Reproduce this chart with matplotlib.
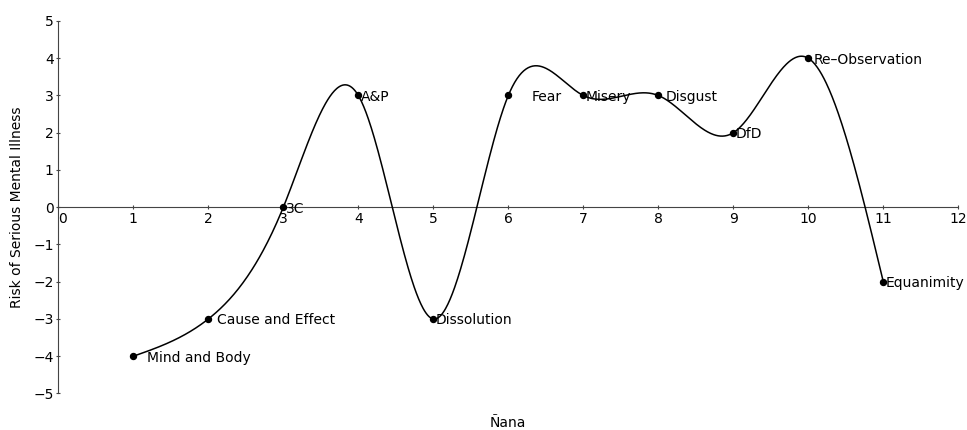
import numpy as np
import matplotlib
matplotlib.use("Agg")
import matplotlib.pyplot as plt

# data
stage_x = [1, 2, 3, 4, 5, 6, 7, 8, 9, 10, 11]
risk = [-4, -3, 0, 3, -3, 3, 3, 3, 2, 4, -2]
stage_names = ["Mind and Body", "Cause and Effect", "3C", "A&P", "Dissolution",
               "Fear", "Misery", "Disgust", "DfD", "Re\u2013Observation", "Equanimity"]
x_ticks = list(range(0, 13))
y_ticks = list(range(-5, 6))

# label horizontal offsets (points) to the right of each dot
label_dx = [10, 6.5, 2, 2, 2, 17, 2, 5, 2, 3.5, 2]


def natural_spline(x, y, xs):
    x = np.asarray(x, float); y = np.asarray(y, float)
    n = len(x)
    h = np.diff(x)
    A = np.zeros((n, n)); b = np.zeros(n)
    A[0, 0] = 1; A[-1, -1] = 1
    for i in range(1, n - 1):
        A[i, i - 1] = h[i - 1]
        A[i, i] = 2 * (h[i - 1] + h[i])
        A[i, i + 1] = h[i]
        b[i] = 6 * ((y[i + 1] - y[i]) / h[i] - (y[i] - y[i - 1]) / h[i - 1])
    M = np.linalg.solve(A, b)
    out = np.empty_like(xs)
    for k, t in enumerate(xs):
        i = min(max(np.searchsorted(x, t) - 1, 0), n - 2)
        dx1 = x[i + 1] - t; dx0 = t - x[i]
        out[k] = (M[i] * dx1 ** 3 + M[i + 1] * dx0 ** 3) / (6 * h[i]) \
            + (y[i] / h[i] - M[i] * h[i] / 6) * dx1 \
            + (y[i + 1] / h[i] - M[i + 1] * h[i] / 6) * dx0
    return out


plt.rcParams['font.family'] = ['DejaVu Sans']
fig = plt.figure(figsize=(9.67, 4.3), dpi=100)
ax = fig.add_axes([0.0603, 0.0849, 0.9307, 0.8663])

xs = np.linspace(stage_x[0], stage_x[-1], 1000)
ax.plot(xs, natural_spline(stage_x, risk, xs), color='black', lw=1.1, zorder=3)
ax.plot(stage_x, risk, 'o', color='black', ms=4.3, zorder=4)
for xv, yv, name, dx in zip(stage_x, risk, stage_names, label_dx):
    ax.annotate(name, (xv, yv), xytext=(dx, -3.9), textcoords='offset points',
                ha='left', va='baseline', fontsize=10, zorder=5)

ax.set_xlim(0, 12)
ax.set_ylim(-5, 5)
ax.spines['left'].set_position(('data', 0))
ax.spines['bottom'].set_position(('data', 0))
ax.spines['top'].set_visible(False)
ax.spines['right'].set_visible(False)
for s in ('left', 'bottom'):
    ax.spines[s].set_linewidth(0.8)
    ax.spines[s].set_color('#444444')
ax.set_xticks(x_ticks)
ax.set_yticks(y_ticks)
ax.set_xticklabels([str(v) for v in x_ticks])
ax.set_yticklabels([str(v).replace('-', '\u2212') for v in y_ticks])
ax.tick_params(direction='inout', length=3.5, width=0.8, labelsize=10, pad=1.5,
               colors='#444444', labelcolor='black')
ax.get_xticklabels()[0].set_horizontalalignment('left')
ax.patch.set_visible(False)

fig.text(0.525, 0.016, "Ñana", ha='center', va='center', fontsize=10)
fig.text(0.018, 0.517, "Risk of Serious Mental Illness", rotation=90,
         ha='center', va='center', fontsize=10)

fig.savefig("out.png", dpi=100)
